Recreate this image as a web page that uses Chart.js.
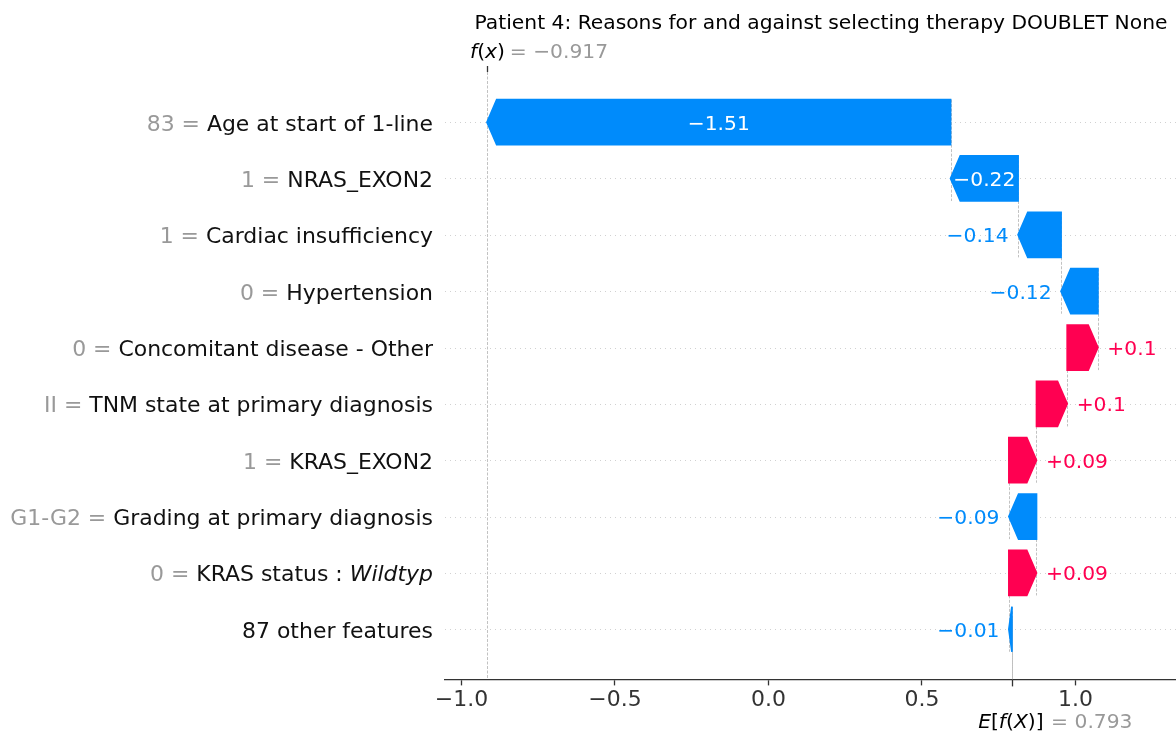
<!DOCTYPE html>
<html><head><meta charset="utf-8">
<script src="https://cdn.jsdelivr.net/npm/chart.js@4.4.1/dist/chart.umd.min.js"></script>
<style>
html,body{margin:0;padding:0;background:#fff;overflow:hidden;width:1176px;height:736px}
#wrap{position:absolute;left:0;top:0;width:1200px;height:736px}
</style>
</head><body><div id="wrap"><canvas id="c" width="1200" height="736"></canvas></div>
<script>
// ---- data (top row first) ----
const featureValues = ["83", "1", "1", "0", "0", "II", "1", "G1-G2", "0", ""];
const featureNames = ["Age at start of 1-line", "NRAS_EXON2", "Cardiac insufficiency", "Hypertension",
  "Concomitant disease - Other", "TNM state at primary diagnosis", "KRAS_EXON2",
  "Grading at primary diagnosis", "KRAS status : *Wildtyp*", "87 other features"];
const shapValues = [-1.51, -0.22, -0.14, -0.12, 0.1, 0.1, 0.09, -0.09, 0.09, -0.01];
const baseValue = 0.793;
const fxValue = -0.917;
const xTicks = [-1.0, -0.5, 0.0, 0.5, 1.0];
const titleText = "Patient 4: Reasons for and against selecting therapy DOUBLET None";

// ---- styling ----
const FONT = '"DejaVu Sans", sans-serif';
const BLUE = '#008bfb', RED = '#ff0051';
const PT = 121.6 / 72;
const HEAD = 0.08 * 121.6;

const nRows = shapValues.length;
const spans = [];
{ let loc = fxValue; for (let i = 0; i < nRows; i++) { loc -= shapValues[i]; spans.push([loc, loc + shapValues[i]]); } }

function fmtSigned(v) {
  let s = (v >= 0 ? '+' : '-') + Math.abs(v).toFixed(2);
  s = s.replace(/\.?0+$/, '');
  return s.replace('-', '\u2212');
}
function fmtTick(v) { return Number(v).toFixed(1).replace('-', '\u2212'); }
function parseSegs(t) {
  return t.split(/(\*[^*]+\*)/).filter(s => s.length).map(s => s[0] === '*' ? {t: s.slice(1, -1), it: true} : {t: s, it: false});
}
function drawSegs(ctx, segs, x, yb, align, size, color) {
  const widths = segs.map(s => { ctx.font = (s.it ? 'italic ' : '') + size + 'px ' + FONT; return ctx.measureText(s.t).width; });
  const total = widths.reduce((a, b) => a + b, 0);
  let cx = align === 'right' ? x - total : x;
  ctx.textAlign = 'left'; ctx.textBaseline = 'alphabetic'; ctx.fillStyle = color;
  segs.forEach((s, i) => { ctx.font = (s.it ? 'italic ' : '') + size + 'px ' + FONT; ctx.fillText(s.t, cx, yb); cx += widths[i]; });
  return total;
}

const waterfall = {
  id: 'waterfall',
  beforeDatasetsDraw(chart) {
    const {ctx, chartArea: a, scales: {x, y}} = chart;
    ctx.save();
    ctx.strokeStyle = '#cccccc'; ctx.lineWidth = 0.9; ctx.setLineDash([1, 4]);
    for (let r = 0; r < nRows; r++) {
      const py = Math.round(y.getPixelForValue(r)) + 0.5;
      ctx.beginPath(); ctx.moveTo(a.left, py); ctx.lineTo(a.right, py); ctx.stroke();
    }
    ctx.strokeStyle = '#bbbbbb'; ctx.lineWidth = 0.9; ctx.setLineDash([3, 1.5]);
    const vline = (xv, y0, y1) => {
      const px = Math.round(x.getPixelForValue(xv)) + 0.5;
      ctx.beginPath(); ctx.moveTo(px, y0); ctx.lineTo(px, y1); ctx.stroke();
    };
    vline(fxValue, a.top, a.bottom);
    vline(baseValue, a.bottom, a.bottom - (a.bottom - a.top) / nRows);
    spans.forEach((s, i) => {
      const r = nRows - 1 - i;
      vline(s[0], y.getPixelForValue(r + 0.4), Math.min(a.bottom, y.getPixelForValue(r - 1.4)));
    });
    ctx.restore();
  },
  beforeDatasetDraw(chart, args) {
    const {ctx, scales: {x, y}} = chart;
    ctx.save();
    ctx.lineJoin = 'miter'; ctx.lineWidth = 1.0 * PT;
    args.meta.data.forEach((el, i) => {
      const v = shapValues[i]; const [s, e] = spans[i];
      const ps = x.getPixelForValue(s), pe = x.getPixelForValue(e);
      const cy = el.y;
      const half = Math.abs(y.getPixelForValue(0) - y.getPixelForValue(0.4));
      const dir = Math.sign(pe - ps); const len = Math.abs(pe - ps);
      const hl = Math.min(len, HEAD);
      const neck = pe - dir * hl;
      const col = v >= 0 ? RED : BLUE;
      ctx.fillStyle = col; ctx.strokeStyle = col;
      ctx.beginPath();
      ctx.moveTo(ps, cy - half); ctx.lineTo(neck, cy - half); ctx.lineTo(pe, cy);
      ctx.lineTo(neck, cy + half); ctx.lineTo(ps, cy + half); ctx.closePath();
      ctx.fill(); ctx.stroke();
    });
    ctx.restore();
    return false;
  },
  afterDatasetsDraw(chart) {
    const {ctx, chartArea: a, scales: {x, y}} = chart;
    ctx.save();
    // value labels on bars
    const vs = 12 * PT;
    spans.forEach((sp, i) => {
      const v = shapValues[i];
      const ps = x.getPixelForValue(sp[0]), pe = x.getPixelForValue(sp[1]);
      const cy = y.getPixelForValue(nRows - 1 - i);
      const yb = cy + 0.365 * vs;
      const txt = fmtSigned(v);
      ctx.font = vs + 'px ' + FONT;
      const w = ctx.measureText(txt).width;
      const len = Math.abs(pe - ps);
      ctx.textBaseline = 'alphabetic';
      if (w + 4 < len) {
        ctx.fillStyle = '#ffffff'; ctx.textAlign = 'center';
        ctx.fillText(txt, (ps + pe) / 2, yb);
      } else {
        ctx.fillStyle = v >= 0 ? RED : BLUE;
        if (v >= 0) { ctx.textAlign = 'left'; ctx.fillText(txt, pe + 5 * PT + 1, yb); }
        else { ctx.textAlign = 'right'; ctx.fillText(txt, pe - 5 * PT - 1, yb); }
      }
    });
    // y labels
    const ls = 13 * PT;
    const rx = a.left - 12;
    featureNames.forEach((nm, i) => {
      const cy = y.getPixelForValue(nRows - 1 - i);
      const yb = cy + 0.365 * ls + 0.5;
      const w = drawSegs(ctx, parseSegs(nm), rx, yb, 'right', ls, '#111111');
      if (featureValues[i] !== '') {
        drawSegs(ctx, [{t: featureValues[i] + ' = ', it: false}], rx - w, yb, 'right', ls, '#999999');
      }
    });
    // title
    ctx.font = (12 * PT) + 'px ' + FONT; ctx.fillStyle = '#000'; ctx.textAlign = 'center'; ctx.textBaseline = 'alphabetic';
    ctx.fillText(titleText, (a.left + a.right) / 2, 29);
    // f(x) top tick and label
    const pfx = x.getPixelForValue(fxValue);
    const pb = x.getPixelForValue(baseValue);
    ctx.strokeStyle = '#333'; ctx.lineWidth = 1.3; ctx.setLineDash([]);
    ctx.beginPath(); ctx.moveTo(Math.round(pfx) + 0.5, a.top - 6); ctx.lineTo(Math.round(pfx) + 0.5, a.top); ctx.stroke();
    ctx.beginPath(); ctx.moveTo(Math.round(pb) + 0.5, a.bottom); ctx.lineTo(Math.round(pb) + 0.5, a.bottom + 7); ctx.stroke();
    const ms = 12 * PT;
    drawSegs(ctx, [{t: 'f', it: true}, {t: '(', it: false}, {t: 'x', it: true}, {t: ')', it: false}], pfx - 10 * PT, 58, 'left', ms, '#000');
    drawSegs(ctx, [{t: '= ' + fxValue.toFixed(3).replace('-', '\u2212'), it: false}], pfx + 12 * PT + 2.5, 58, 'left', ms, '#999999');
    drawSegs(ctx, [{t: 'E', it: true}, {t: '[', it: false}, {t: 'f', it: true}, {t: '(', it: false}, {t: 'X', it: true}, {t: ')]', it: false}], pb - 20 * PT, 728, 'left', ms, '#000');
    drawSegs(ctx, [{t: '= ' + baseValue.toFixed(3), it: false}], pb + 22 * PT + 2, 728, 'left', ms, '#999999');
    ctx.restore();
  }
};

new Chart(document.getElementById('c'), {
  type: 'bar',
  data: {
    datasets: [{
      data: spans.map((s, i) => ({x: [s[0], s[1]], y: nRows - 1 - i})),
      backgroundColor: shapValues.map(v => v >= 0 ? RED : BLUE),
      categoryPercentage: 1, barPercentage: 0.8
    }]
  },
  options: {
    responsive: false, devicePixelRatio: 1, animation: false, indexAxis: 'y',
    layout: {padding: {left: 445, top: 72, right: 3, bottom: 0}},
    plugins: {legend: {display: false}, tooltip: {enabled: false}, title: {display: false}},
    scales: {
      x: {
        type: 'linear', min: -1.0537, max: 1.3958,
        afterFit(s) { s.height = 736 - 679.4; },
        afterBuildTicks(s) { s.ticks = xTicks.map(v => ({value: v})); },
        grid: {display: true, drawOnChartArea: false, drawTicks: true, tickLength: 6, tickColor: '#333', tickWidth: 1.3},
        border: {display: true, color: '#333', width: 1.3},
        ticks: {font: {family: FONT, size: 13 * PT}, color: '#333', padding: 2, maxRotation: 0, autoSkip: false, callback: v => fmtTick(v)}
      },
      y: {
        type: 'linear', min: -0.89, max: 9.89, offset: false,
        afterFit(s) { s.width = 0; },
        grid: {display: false, offset: false}, border: {display: false}, ticks: {display: false}
      }
    }
  },
  plugins: [waterfall]
});
</script>
</body></html>
